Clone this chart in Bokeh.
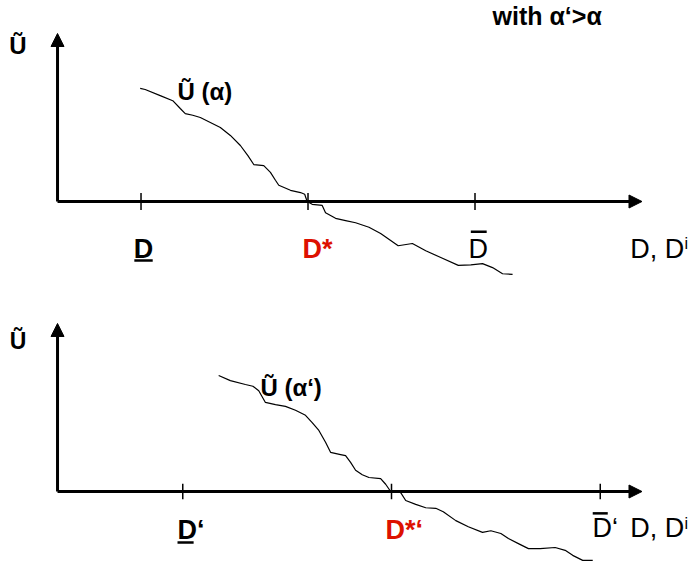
from bokeh.plotting import figure
from bokeh.layouts import column
from bokeh.models import Range1d, Arrow, NormalHead, Label
from bokeh.embed import file_html
from bokeh.resources import INLINE

# ---- data (D units on x, utility units on y) ----
top_d = [0.99, 1.05, 1.23, 1.38, 1.47, 1.53, 1.62, 1.71, 1.83, 1.95, 2.07, 2.19, 2.28, 2.35,
         2.47, 2.55, 2.61, 2.65, 2.79, 2.91, 2.96, 2.99, 3.05, 3.17, 3.21, 3.33, 3.45, 3.57,
         3.73, 3.87, 4.08, 4.25, 4.41, 4.59, 4.80, 4.95, 5.09, 5.21, 5.33, 5.45]
top_u = [2.02, 2.00, 1.89, 1.80, 1.66, 1.57, 1.54, 1.50, 1.41, 1.32, 1.18, 1.00, 0.82, 0.66,
         0.64, 0.52, 0.38, 0.29, 0.20, 0.16, 0.13, 0.00, -0.05, -0.07, -0.20, -0.30, -0.34, -0.38,
         -0.46, -0.57, -0.79, -0.75, -0.88, -1.00, -1.14, -1.13, -1.11, -1.18, -1.29, -1.30]

bot_d = [1.93, 2.07, 2.25, 2.34, 2.41, 2.49, 2.61, 2.73, 2.85, 2.97, 3.05, 3.13, 3.21, 3.27,
         3.39, 3.45, 3.51, 3.57, 3.65, 3.73, 3.87, 3.93, 3.99, 4.07, 4.11, 4.17, 4.29, 4.41,
         4.53, 4.62, 4.77, 4.92, 5.09, 5.19, 5.31, 5.40, 5.52, 5.64, 5.78, 5.96, 6.08, 6.17,
         6.29, 6.41]
bot_u = [2.07, 1.98, 1.91, 1.88, 1.80, 1.59, 1.55, 1.52, 1.45, 1.36, 1.23, 1.09, 0.88, 0.70,
         0.66, 0.64, 0.52, 0.38, 0.30, 0.25, 0.23, 0.13, 0.00, 0.00, -0.02, -0.16, -0.23, -0.29,
         -0.30, -0.36, -0.52, -0.63, -0.73, -0.70, -0.75, -0.84, -0.93, -1.02, -1.02, -1.00, -1.05, -1.14,
         -1.23, -1.23]

top_ticks = [1.0, 3.0, 5.0]
bot_ticks = [1.5, 4.0, 6.5]
x_axis_end = 7.0
y_axis_end = 3.0

FONT = "Liberation Sans"
RED = "#dd1100"
LOFF = 0.13  # baseline correction for labels


def make_panel(height, ybottom, ytop, curve_x, curve_y, ticks, tick_half):
    p = figure(width=690, height=height, x_range=Range1d(-0.683, 7.581),
               y_range=Range1d(ybottom, ytop), output_backend="svg",
               toolbar_location=None, min_border=0)
    p.axis.visible = False
    p.grid.visible = False
    p.outline_line_color = None
    p.background_fill_color = "white"
    p.border_fill_color = "white"
    p.add_layout(Arrow(end=NormalHead(size=13, fill_color="black", line_color="black", line_width=1),
                       x_start=0, y_start=0, x_end=x_axis_end, y_end=0,
                       line_width=3, line_color="black"))
    p.add_layout(Arrow(end=NormalHead(size=13, fill_color="black", line_color="black", line_width=1),
                       x_start=0, y_start=0, x_end=0, y_end=y_axis_end,
                       line_width=3, line_color="black"))
    p.segment(x0=ticks, y0=[-tick_half] * len(ticks), x1=ticks, y1=[tick_half] * len(ticks),
              line_color="black", line_width=1.5)
    p.line(curve_x, curve_y, line_color="black", line_width=1.2)
    return p


def lab(p, x, y, text, size="27px", bold=False, color="black", align="left"):
    p.add_layout(Label(x=x, y=y + LOFF, text=text, text_font=FONT, text_font_size=size,
                       text_font_style="bold" if bold else "normal",
                       text_color=color, text_align=align, text_baseline="alphabetic"))


# ---- top panel ----
p1 = make_panel(298, -1.732, 3.589, top_d, top_u, top_ticks, 0.15)
lab(p1, -0.473, 2.66, "Ũ", size="24px", bold=True, align="center")
lab(p1, 1.437, 1.84, "Ũ (α)", size="24px", bold=True)
lab(p1, 5.21, 3.18, "with α‘>α", size="25px", bold=True)
lab(p1, 1.03, -0.98, "D", bold=True, align="center")
lab(p1, 2.934, -0.98, "D*", bold=True, color=RED)
lab(p1, 5.04, -0.98, "D", align="center")
lab(p1, 6.86, -0.98, "D, D")
lab(p1, 7.51, -0.875, "i", size="16px")
# underline / overline
p1.segment(x0=[0.92, 4.95], y0=[-1.055, -0.54], x1=[1.14, 5.14], y1=[-1.055, -0.54],
           line_color="black", line_width=2.5)

# ---- bottom panel ----
p2 = make_panel(267, -1.321, 3.446, bot_d, bot_u, bot_ticks, 0.14)
lab(p2, -0.473, 2.55, "Ũ", size="23px", bold=True, align="center")
lab(p2, 2.43, 1.73, "Ũ (α‘)", size="24px", bold=True)
lab(p2, 1.437, -0.82, "D‘", bold=True)
lab(p2, 3.928, -0.82, "D*‘", bold=True, color=RED)
lab(p2, 6.407, -0.79, "D‘")
lab(p2, 6.86, -0.79, "D, D")
lab(p2, 7.51, -0.70, "i", size="16px")
p2.segment(x0=[1.437, 6.41], y0=[-0.91, -0.39], x1=[1.63, 6.59], y1=[-0.91, -0.39],
           line_color="black", line_width=2.5)

layout = column(p1, p2, spacing=0)
open("out.html", "w").write(file_html(layout, INLINE))
